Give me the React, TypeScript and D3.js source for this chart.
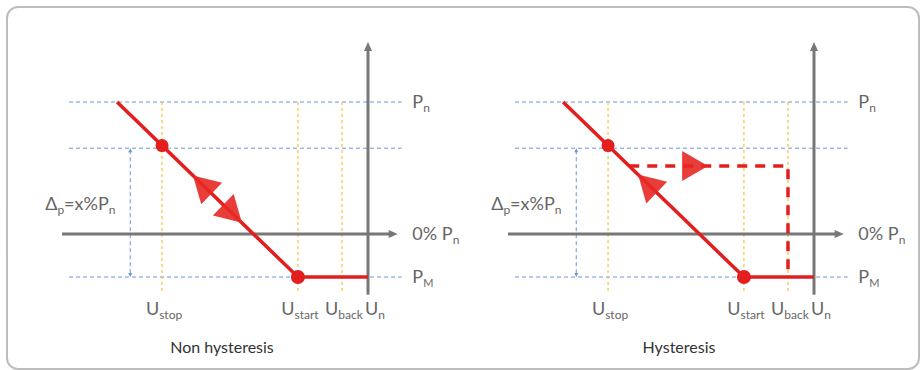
import React from "react";
import * as d3 from "d3";

// Conceptual levels (voltage on x, power on y)
const uLevels = [
  { key: "stop", sub: "stop", x: 32.7 },
  { key: "start", sub: "start", x: 77.1 },
  { key: "back", sub: "back", x: 91.5 },
];
const uN = 100;
const pLevels = { Pn: 100, Pdelta: 65, zero: 0, PM: -32.6 };
const droopLine = [
  { x: 18, y: 100 },
  { x: 77.1, y: -32.6 },
  { x: 100, y: -32.6 },
];
const hysteresisReturnY = 51.5;
const arrowsNon = [
  { x: 42.8, dir: "up" },
  { x: 58.8, dir: "down" },
];
const arrowsHyst = [{ x: 42.5, dir: "up" }];
const returnArrowX = 65.4;
const panels = [
  { name: "Non hysteresis", hyst: false },
  { name: "Hysteresis", hyst: true },
];

const W = 924;
const H = 370;
const FONT = "Lato, 'Open Sans', sans-serif";
const RED = "#e31e1e";
const ARROW = "rgba(229,40,35,0.9)";
const GRAY = "#777";
const TXT = "#666";

const x = d3.scaleLinear().domain([0, 100]).range([62, 368]);
const y = d3.scaleLinear().domain([0, 100]).range([234, 102]);

const lineY = (xv: number) => {
  const [a, b] = droopLine;
  return a.y + ((xv - a.x) * (b.y - a.y)) / (b.x - a.x);
};
const lineX = (yv: number) => {
  const [a, b] = droopLine;
  return a.x + ((yv - a.y) * (b.x - a.x)) / (b.y - a.y);
};

function tri(tipX: number, tipY: number, angle: number, len = 26, half = 15) {
  const bx = tipX - len * Math.cos(angle);
  const by = tipY - len * Math.sin(angle);
  const px = -Math.sin(angle);
  const py = Math.cos(angle);
  return `M${tipX},${tipY}L${bx + px * half},${by + py * half}L${bx - px * half},${by - py * half}Z`;
}

function Sub({ main, sub, xPos, yPos, anchor = "start", size = 18, subSize = 12, fill = TXT }: any) {
  return (
    <text x={xPos} y={yPos} textAnchor={anchor} fontFamily={FONT} fontSize={size} fill={fill}>
      {main}
      <tspan fontSize={subSize} dy={4}>{sub}</tspan>
    </text>
  );
}

function Panel({ hyst, name, dx }: { hyst: boolean; name: string; dx: number }) {
  const line = d3
    .line<{ x: number; y: number }>()
    .x((d) => x(d.x))
    .y((d) => y(d.y));
  const p0 = [x(droopLine[0].x), y(droopLine[0].y)];
  const p1 = [x(droopLine[1].x), y(droopLine[1].y)];
  const ang = Math.atan2(p1[1] - p0[1], p1[0] - p0[0]);
  const arrows = hyst ? arrowsHyst : arrowsNon;
  const dashedStartX = lineX(hysteresisReturnY);
  const uBack = uLevels[2].x;
  const blueX = x(22.3);
  return (
    <g transform={`translate(${dx},0)`}>
      {[pLevels.Pn, pLevels.Pdelta, pLevels.PM].map((p) => (
        <line key={p} x1={x(2.3)} x2={x(111)} y1={y(p)} y2={y(p)} stroke="#6d95d6" strokeWidth={1} strokeDasharray="4,3" />
      ))}
      {uLevels.map((u) => (
        <line key={u.key} x1={x(u.x)} x2={x(u.x)} y1={y(pLevels.Pn)} y2={y(-44)} stroke="#f6c945" strokeWidth={1.3} strokeDasharray="3,3" />
      ))}
      <line x1={blueX} x2={blueX} y1={y(pLevels.Pdelta) + 2} y2={y(pLevels.PM) - 2} stroke="#6d95d6" strokeWidth={1} strokeDasharray="4,3" />
      <path d={`M${blueX},${y(pLevels.Pdelta)}l-2,4h4z`} fill="#6d95d6" />
      <path d={`M${blueX},${y(pLevels.PM)}l-2,-4h4z`} fill="#6d95d6" />
      <line x1={x(0)} x2={x(108)} y1={y(0)} y2={y(0)} stroke={GRAY} strokeWidth={3} />
      <path d={tri(x(109.7), y(0), 0, 9, 4)} fill={GRAY} />
      <line x1={x(uN)} x2={x(uN)} y1={y(-46)} y2={y(142)} stroke={GRAY} strokeWidth={3} />
      <path d={tri(x(uN), y(145.5), -Math.PI / 2, 9, 4)} fill={GRAY} />
      <path d={line(droopLine) || ""} fill="none" stroke={RED} strokeWidth={3.5} />
      {hyst && (
        <path
          d={`M${x(dashedStartX)},${y(hysteresisReturnY)}H${x(uBack)}V${y(pLevels.PM)}`}
          fill="none"
          stroke={RED}
          strokeWidth={3.5}
          strokeDasharray="10,8"
        />
      )}
      {arrows.map((a, i) => (
        <path key={i} d={tri(x(a.x), y(lineY(a.x)), a.dir === "up" ? ang + Math.PI : ang)} fill={ARROW} />
      ))}
      {hyst && <path d={tri(x(returnArrowX), y(hysteresisReturnY), 0)} fill={ARROW} />}
      <circle cx={x(uLevels[0].x)} cy={y(lineY(uLevels[0].x))} r={6.5} fill={RED} />
      <circle cx={x(uLevels[1].x)} cy={y(pLevels.PM)} r={7} fill={RED} />
      <Sub main="P" sub="n" xPos={x(114.5)} yPos={y(pLevels.Pn) + 6} />
      <Sub main="0% P" sub="n" xPos={x(114.5)} yPos={y(0) + 6} />
      <Sub main="P" sub="M" subSize={11} xPos={x(114.5)} yPos={y(pLevels.PM) + 6} />
      {uLevels.map((u) => (
        <Sub key={u.key} main="U" sub={u.sub} xPos={x(u.x) + 2} yPos={315} anchor="middle" />
      ))}
      <Sub main="U" sub="n" xPos={x(uN) + 7} yPos={315} anchor="middle" />
      <text x={x(-5.5)} y={210} fontFamily={FONT} fontSize={18} fill={TXT}>
        Δ<tspan fontSize={12} dy={4}>p</tspan>
        <tspan dy={-4}>=x%P</tspan>
        <tspan fontSize={12} dy={4}>n</tspan>
      </text>
      <text x={hyst ? 233 : 222} y={353} textAnchor="middle" fontFamily={FONT} fontSize={16} fill="#333">
        {name}
      </text>
    </g>
  );
}

export default function App() {
  return (
    <svg width={W} height={H} style={{ position: "absolute", left: 0, top: 0, background: "#fff" }}>
      <rect x={7} y={7} width={912} height={362} rx={11} fill="#fff" stroke="#bdbdbd" strokeWidth={2} />
      {panels.map((p, i) => (
        <Panel key={p.name} hyst={p.hyst} name={p.name} dx={i * 446} />
      ))}
    </svg>
  );
}
